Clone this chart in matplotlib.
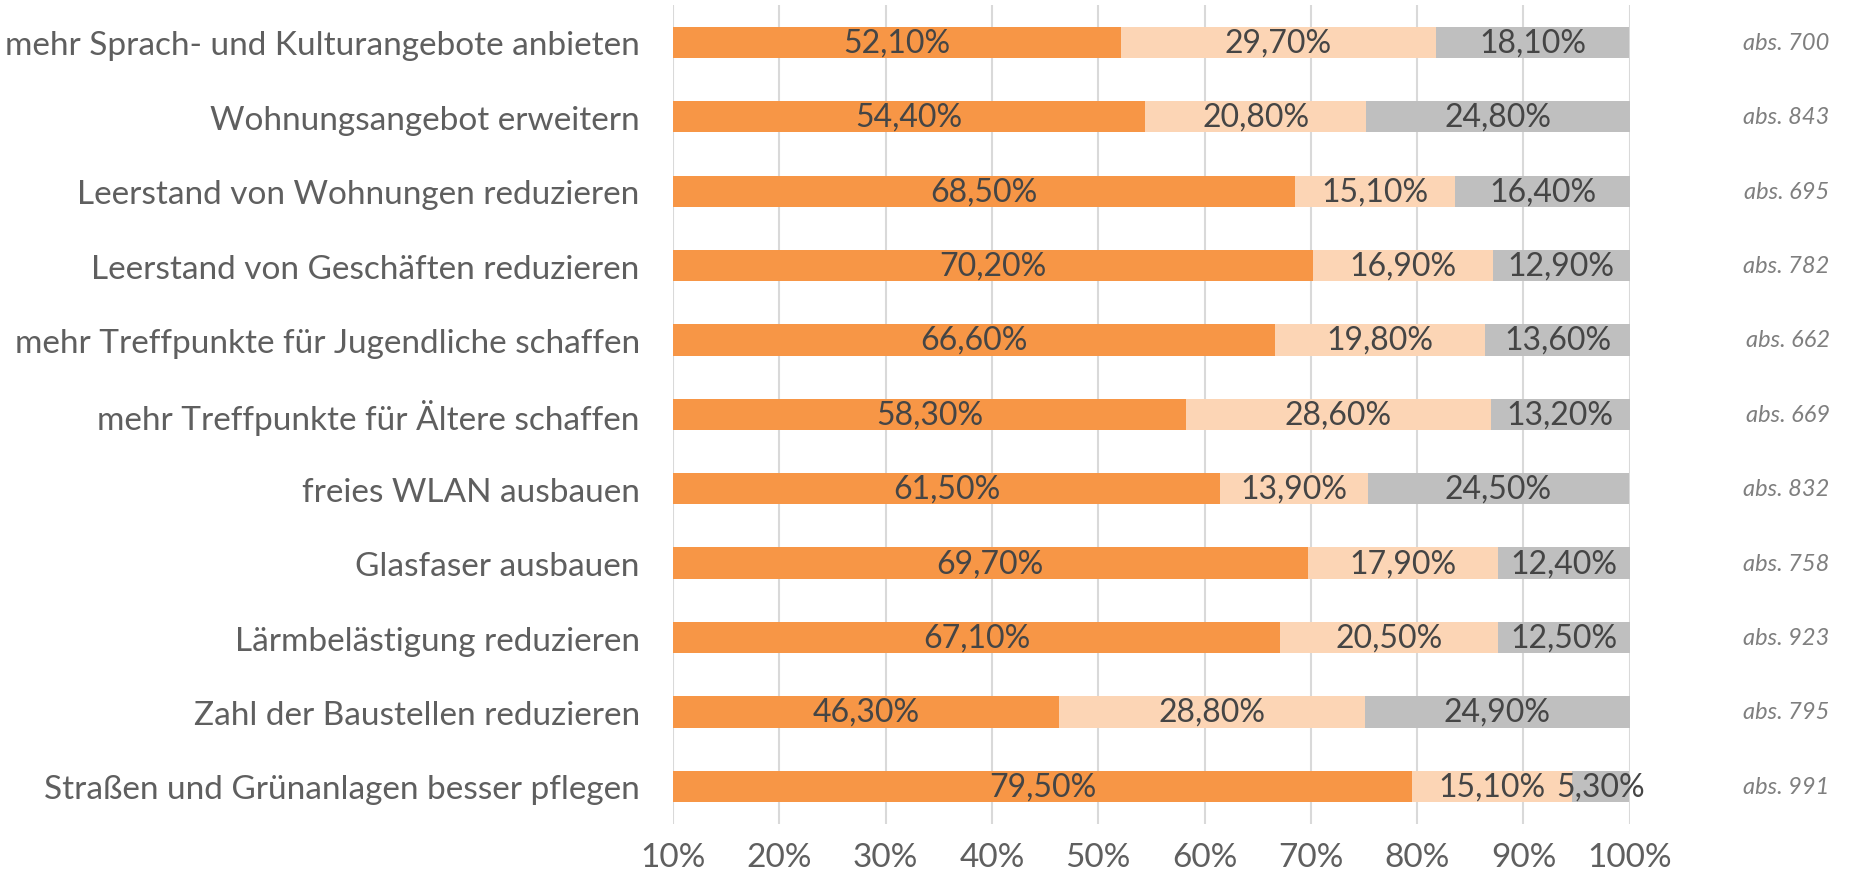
import numpy as np
import matplotlib.pyplot as plt

# Kategorien von oben nach unten
labels = [
    "mehr Sprach- und Kulturangebote anbieten",
    "Wohnungsangebot erweitern",
    "Leerstand von Wohnungen reduzieren",
    "Leerstand von Geschäften reduzieren",
    "mehr Treffpunkte für Jugendliche schaffen",
    "mehr Treffpunkte für Ältere schaffen",
    "freies WLAN ausbauen",
    "Glasfaser ausbauen",
    "Lärmbelästigung reduzieren",
    "Zahl der Baustellen reduzieren",
    "Straßen und Grünanlagen besser pflegen",
]
teil1 = [52.1, 54.4, 68.5, 70.2, 66.6, 58.3, 61.5, 69.7, 67.1, 46.3, 79.5]
teil2 = [29.7, 20.8, 15.1, 16.9, 19.8, 28.6, 13.9, 17.9, 20.5, 28.8, 15.1]
teil3 = [18.1, 24.8, 16.4, 12.9, 13.6, 13.2, 24.5, 12.4, 12.5, 24.9, 5.3]
anzahl = [700, 843, 695, 782, 662, 669, 832, 758, 923, 795, 991]

farben = ["#F79646", "#FCD5B5", "#BFBFBF"]
xmin, xmax = 10, 100

plt.rcParams['font.family'] = ['Lato', 'DejaVu Sans']

fig = plt.figure(figsize=(18.52, 8.79), dpi=100)
ax = fig.add_axes([0.3634, 0.062, 0.5166, 0.931])

y = np.arange(len(labels))
links = np.zeros(len(labels))
for werte, farbe in zip([teil1, teil2, teil3], farben):
    werte = np.array(werte)
    ax.barh(y, werte, left=links, height=0.42, color=farbe, zorder=2)
    for i, (l, w) in enumerate(zip(links, werte)):
        a = max(l, xmin)
        b = min(l + w, xmax)
        txt = f"{w:.2f}%".replace(".", ",")
        ax.text((a + b) / 2, i, txt, ha='center', va='center',
                fontsize=23, color='#454545', zorder=3)
    links = links + werte

for i, n in enumerate(anzahl):
    ax.text(1.209, i, f"abs. {n}", transform=ax.get_yaxis_transform(),
            ha='right', va='center', fontsize=17, style='italic',
            color='#7F7F7F')

ax.set_xlim(xmin, xmax)
ax.set_ylim(len(labels) - 0.5, -0.5)
ax.set_xticks(np.arange(10, 101, 10))
ax.set_xticklabels([f"{v}%" for v in range(10, 101, 10)])
ax.set_yticks(y)
ax.set_yticklabels(labels)
ax.tick_params(length=0, labelsize=24, labelcolor='#5F5F5F', pad=24)
ax.tick_params(axis='x', pad=13)
ax.grid(axis='x', color='#D9D9D9', linewidth=1.5, zorder=0)
for s in ax.spines.values():
    s.set_visible(False)

plt.savefig('out.png')
